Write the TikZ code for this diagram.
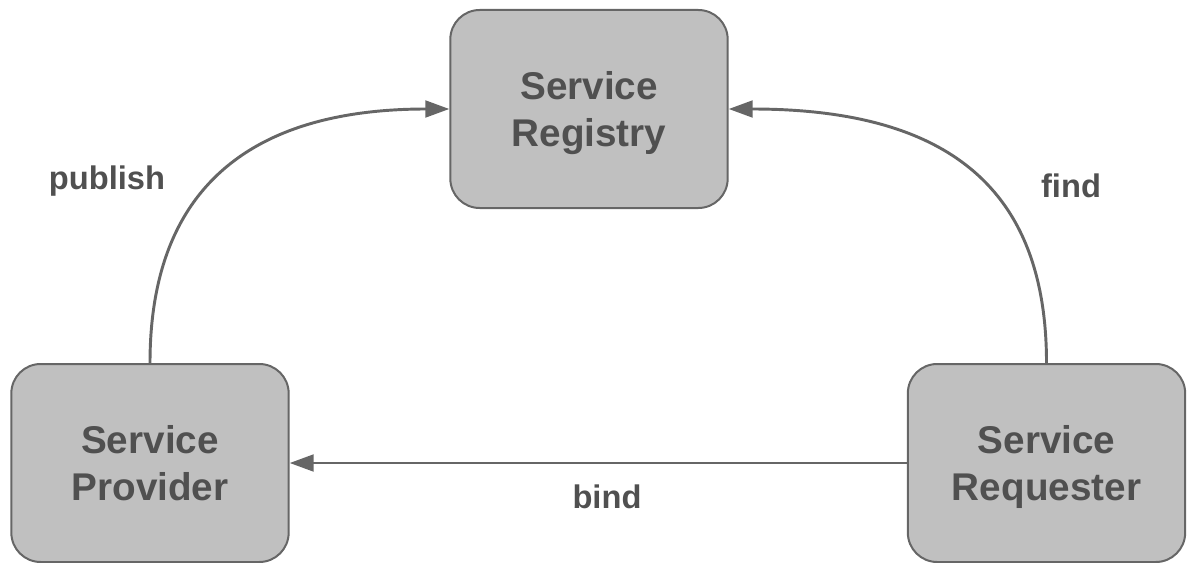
\documentclass[tikz,border=0pt]{standalone}
\usepackage{fontspec}
\setmainfont{Liberation Sans}
\usetikzlibrary{arrows.meta}
\definecolor{boxfill}{HTML}{C0C0C0}
\definecolor{boxline}{HTML}{666666}
\definecolor{txt}{HTML}{505050}
\tikzset{
  svc/.style={draw=boxline, fill=boxfill, line width=1.5pt, rounded corners=22pt,
    minimum width=208pt, minimum height=148.5pt, align=center, text=txt,
    font=\fontsize{29}{35}\selectfont\bfseries, inner sep=0pt, text depth=0pt},
  conn/.style={draw=boxline, line width=2.2pt, -{Triangle[length=18pt,width=12.5pt]}},
  lbl/.style={text=txt, font=\fontsize{24.5}{29}\selectfont\bfseries, inner sep=0pt, text depth=0pt}
}
\begin{document}
\begin{tikzpicture}[x=0.75pt,y=-0.75pt]
\useasboundingbox (0,0) rectangle (1187,563);
\node[svc] (reg) at (589,109) {Service\\Registry};
\node[svc] (prov) at (150,463) {Service\\Provider};
\node[svc] (req) at (1046.5,463) {Service\\Requester};
\draw[conn] (prov.north) .. controls +(0,-184) and +(-188,0) .. (reg.west);
\draw[conn] (req.north) .. controls +(0,-174) and +(220,0) .. (reg.east);
\draw[conn] (req.west) -- (prov.east);
\node[lbl] (lpub) at (107,178) {publish};
\node[lbl] (lfind) at (1071,186) {find};
\node[lbl] (lbind) at (607,497) {bind};
\end{tikzpicture}
\end{document}
